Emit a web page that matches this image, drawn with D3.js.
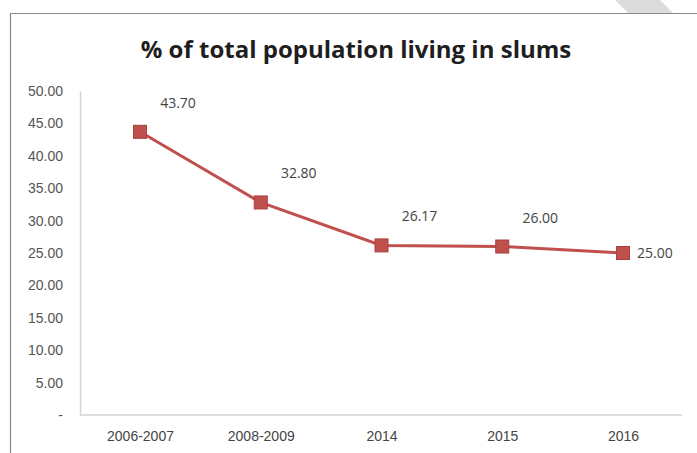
<!DOCTYPE html>
<html><head><meta charset="utf-8">
<script src="https://cdn.jsdelivr.net/npm/d3@7"></script>
<style>body{margin:0;background:#fff}svg{display:block}</style>
</head><body>
<script>
const categories = ["2006-2007","2008-2009","2014","2015","2016"];
const values = [43.70, 32.80, 26.17, 26.00, 25.00];
const yTicks = [0,5,10,15,20,25,30,35,40,45,50];
const title = "% of total population living in slums";

const W = 697, H = 453;
const svg = d3.select("body").append("svg").attr("width", W).attr("height", H);

// decorative frame
svg.append("polygon").attr("points","615,0 660,0 673,13 628,13").attr("fill","#dcdcdc");
svg.append("path").attr("d","M10.5,453 V13.5 H697").attr("fill","none").attr("stroke","#8a8a8a").attr("stroke-width",1.2);

const x = d3.scalePoint().domain(categories).range([140, 623]);
const y = d3.scaleLinear().domain([0, 50]).range([415, 91]);
const plotLeft = 80, plotRight = 682;

svg.append("text").attr("x", 356).attr("y", 58).attr("text-anchor","middle")
  .attr("font-family","Open Sans, Lato, sans-serif").attr("font-weight","bold")
  .attr("font-size", 24).attr("fill","#1e1e1e").text(title);

// axes
const yAxis = d3.axisLeft(y).tickValues(yTicks).tickSize(0).tickPadding(17)
  .tickFormat(d => d === 0 ? "-" : d3.format(".2f")(d));
const gy = svg.append("g").attr("transform", `translate(${plotLeft},0)`).call(yAxis);
gy.select(".domain").attr("stroke","#d4d4d4").attr("stroke-width",1.5);
gy.selectAll("text").attr("font-family","Liberation Sans Narrow, Arial Narrow, sans-serif")
  .attr("font-size",14).attr("fill","#555");

const xAxis = d3.axisBottom(x).tickSize(0).tickPadding(16);
const gx = svg.append("g").attr("transform", `translate(0,${y(0)})`).call(xAxis);
gx.select(".domain").attr("d", `M${plotLeft},0H${plotRight}`).attr("stroke","#d4d4d4").attr("stroke-width",1.5);
gx.selectAll("text").attr("font-family","Liberation Sans Narrow, Arial Narrow, sans-serif")
  .attr("font-size",14).attr("fill","#444");

// line
const line = d3.line().x((d,i) => x(categories[i])).y(d => y(d));
svg.append("path").datum(values).attr("d", line).attr("fill","none")
  .attr("stroke","#c0504d").attr("stroke-width",3);

const s = 13;
svg.selectAll("rect.m").data(values).enter().append("rect").attr("class","m")
  .attr("x",(d,i)=>x(categories[i]) - s/2).attr("y", d => y(d) - s/2)
  .attr("width", s).attr("height", s).attr("fill","#c0504d").attr("stroke","#a8403d").attr("stroke-width",1);

svg.selectAll("text.lbl").data(values).enter().append("text").attr("class","lbl")
  .attr("x",(d,i)=> i === values.length-1 ? x(categories[i]) + 14 : x(categories[i]) + 38)
  .attr("y",(d,i)=> i === values.length-1 ? y(d) + 5 : y(d) - 24)
  .attr("text-anchor",(d,i)=> i === values.length-1 ? "start" : "middle")
  .attr("font-family","Open Sans, sans-serif").attr("font-size",14).attr("fill","#444")
  .text(d => d3.format(".2f")(d));
</script>
</body></html>
